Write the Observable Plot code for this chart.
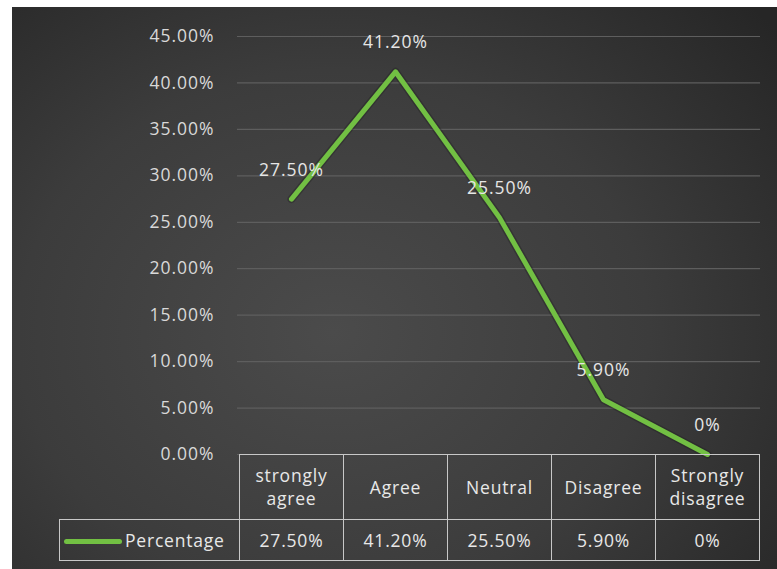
<!DOCTYPE html>
<html><head><meta charset="utf-8">
<script src="https://cdn.jsdelivr.net/npm/d3@7"></script>
<script src="https://cdn.jsdelivr.net/npm/@observablehq/plot@0.6"></script>
<style>
html,body{margin:0;padding:0;background:#fff;}
#panel{position:absolute;left:12px;top:7px;width:765px;height:562px;overflow:hidden;
  background:radial-gradient(ellipse 75% 85% at 42% 58%, #4b4b4b 0%, #3c3c3c 55%, #262626 100%);
  font-family:"Open Sans",sans-serif;}
#chart{position:absolute;left:0;top:0}
#chart svg text{letter-spacing:1px}
#tbl{position:absolute;border-collapse:collapse;color:#e8e8e8;font-size:17.5px;table-layout:fixed;letter-spacing:0.8px}
#tbl td{border:1.5px solid #c8c8c8;text-align:center;padding:0;line-height:23px;box-sizing:border-box;white-space:nowrap}
.sw{display:inline-block;width:58px;height:5px;border-radius:3px;vertical-align:middle;margin-right:3px}
</style></head><body>
<div id="panel"><div id="chart"></div></div>
<script>
const categories = ["strongly agree","Agree","Neutral","Disagree","Strongly disagree"];
const headerLabels = [["strongly","agree"],["Agree"],["Neutral"],["Disagree"],["Strongly","disagree"]];
const percentages = [27.5, 41.2, 25.5, 5.9, 0];
const yTicks = [0,5,10,15,20,25,30,35,40,45];
const seriesName = "Percentage";
const lineColor = "#72c043";

const fmt = v => v === 0 ? "0%" : v.toFixed(2) + "%";
const data = categories.map((c,i)=>({category:c, value:percentages[i]}));

const chart = Plot.plot({
  width:765, height:450, marginTop:29, marginBottom:3, marginLeft:225, marginRight:17,
  style:{background:"transparent", fontFamily:"Open Sans, sans-serif", fontSize:"17.5px", color:"#d9d9d9", overflow:"visible"},
  x:{type:"band", domain:categories, padding:0, axis:null},
  y:{domain:[0,45]},
  marks:[
    Plot.ruleY(yTicks, {stroke:"#5e5e5e", strokeWidth:1.2}),
    Plot.axisY(yTicks, {tickSize:0, tickPadding:23, tickFormat:d=>d.toFixed(2)+"%", fill:"#d9d9d9", fontSize:17.5, label:null}),
    Plot.line(data, {x:"category", y:"value", stroke:"#1c1c1c", strokeWidth:8, strokeOpacity:0.35}),
    Plot.line(data, {x:"category", y:"value", stroke:lineColor, strokeWidth:5}),
    Plot.text(data, {x:"category", y:"value", text:d=>fmt(d.value), dy:-29, fill:"#e6e6e6", fontSize:17.5})
  ]
});
document.getElementById("chart").appendChild(chart);

// data table under the plot, aligned to the x scale
const xs = chart.scale("x");
const bw = xs.bandwidth;
const left0 = xs.apply(categories[0]);
const legendW = 180;
const tbl = document.createElement("table");
tbl.id = "tbl";
tbl.style.left = (left0 - legendW) + "px";
tbl.style.top = chart.scale("y").apply(0) + "px";
const cg = document.createElement("colgroup");
[legendW, ...categories.map(()=>bw)].forEach(w=>{const c=document.createElement("col"); c.style.width=w+"px"; cg.appendChild(c);});
tbl.appendChild(cg);
tbl.style.width = (legendW + bw*categories.length) + "px";
const r1 = tbl.insertRow();
r1.style.height = "65px";
const blank = r1.insertCell(); blank.style.borderTop="none"; blank.style.borderLeft="none";
headerLabels.forEach(lines=>{const c=r1.insertCell(); c.innerHTML = lines.join("<br>");});
const r2 = tbl.insertRow();
r2.style.height = "41px";
const lc = r2.insertCell();
lc.style.textAlign="left"; lc.style.paddingLeft="4px";
lc.innerHTML = `<span class="sw" style="background:${lineColor}"></span>${seriesName}`;
percentages.forEach(v=>{const c=r2.insertCell(); c.textContent = fmt(v);});
document.getElementById("panel").appendChild(tbl);
</script>
</body></html>
